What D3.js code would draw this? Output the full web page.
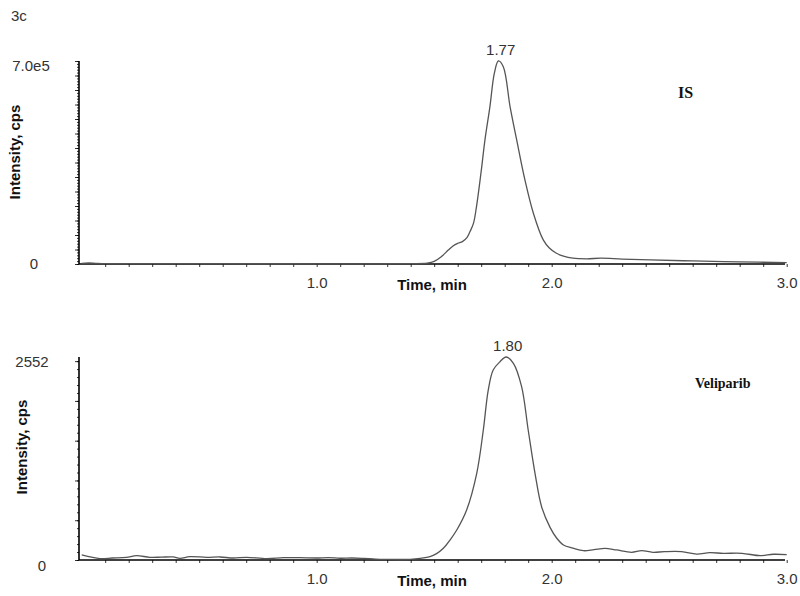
<!DOCTYPE html>
<html>
<head>
<meta charset="utf-8">
<script src="https://cdn.jsdelivr.net/npm/d3@7"></script>
<style>
body{margin:0;background:#fff}
svg{display:block;font-family:"Liberation Sans",Arial,sans-serif}
</style>
</head>
<body>
<div id="chart"></div>
<script>
'use strict'
// IS trace, top panel (time in min, intensity in cps)
let isTime=[0,0.03,0.06,0.1,0.3,0.6,0.9,1.2,1.3,1.4,1.47,1.5,1.53,1.56,1.58,1.6,1.62,1.64,1.652,1.667,1.68,1.7,1.716,1.737,1.756,1.773,1.794,1.823,1.851,1.886,1.922,1.964,1.99,2.02,2.05,2.09,2.15,2.21,2.3,2.42,2.6,2.8,3.0]
let isCps=[2000,3500,2500,1500,1200,1000,800,600,800,1500,3000,9000,25000,48000,62000,71000,77000,92000,111000,140000,198000,320000,428000,542000,658000,700000,680000,542000,428000,290000,175000,83000,55000,37000,27000,20000,18000,20000,17000,14000,10500,7500,4500]
// Veliparib trace, bottom panel
let velTime=[0,0.078,0.13,0.19,0.234,0.29,0.34,0.389,0.418,0.46,0.532,0.589,0.645,0.702,0.787,0.858,0.929,1.0,1.05,1.1,1.15,1.2,1.25,1.3,1.35,1.397,1.44,1.482,1.51,1.539,1.567,1.596,1.638,1.681,1.709,1.73,1.751,1.78,1.806,1.837,1.872,1.9,1.929,1.957,1.993,2.02,2.05,2.09,2.135,2.18,2.227,2.276,2.34,2.383,2.43,2.48,2.553,2.617,2.673,2.73,2.81,2.887,2.943,3.0]
let velCps=[63,17,25,34,54,34,36,38,21,42,34,38,25,34,17,29,29,25,30,22,25,20,12,8,6,9,20,41,80,147,250,377,629,1090,1634,2137,2388,2493,2552,2473,2179,1634,1090,670,410,280,189,150,117,130,147,126,97,117,97,105,105,75,92,84,84,54,72,67]

let timeLabels=[1.0,2.0,3.0]
let isYLabels=[0,700000]
let velYLabels=[0,2552]
let isPeak=[1.77,700000]
let velPeak=[1.80,2552]

const W=800,H=596
let svg=d3.select("#chart").append("svg").attr("width",W).attr("height",H)

let xs=d3.scaleLinear().domain([0,3]).range([81.7,786.7])

svg.append("text").attr("x",11).attr("y",21).attr("font-size",15).attr("fill","#333").text("3c")

function panel(o){
  let ys=d3.scaleLinear().domain([0,o.max]).range([o.base,o.top])
  let g=svg.append("g")
  // x axis: minor ticks each 0.1 min, labels on whole minutes
  let xa=d3.axisBottom(xs).tickValues(d3.range(1,31).map(i=>i/10)).tickSize(3).tickPadding(10)
    .tickFormat(d=>timeLabels.some(v=>Math.abs(v-d)<1e-6)?d3.format(".1f")(d):"")
  let gx=g.append("g").attr("transform","translate(0,"+o.base+")").call(xa)
  gx.select(".domain").remove()
  gx.selectAll("line").attr("stroke","#000")
  gx.selectAll("text").attr("font-size",15).attr("fill","#333").attr("font-family",null)
  g.append("line").attr("x1",79).attr("x2",785).attr("y1",o.base).attr("y2",o.base).attr("stroke","#000").attr("stroke-width",1.6)
  // y axis ticks
  let minor=d3.axisLeft(ys).tickValues(d3.range(0,o.max+1,o.minorStep)).tickSize(2).tickFormat("")
  let major=d3.axisLeft(ys).tickValues(d3.range(0,o.max+1,o.majorStep)).tickSize(4).tickFormat("")
  let gy1=g.append("g").attr("transform","translate(79,0)").call(minor)
  let gy2=g.append("g").attr("transform","translate(79,0)").call(major)
  gy1.select(".domain").remove();gy2.select(".domain").remove()
  g.selectAll("g.tick line").attr("stroke","#000").attr("stroke-width",0.8)
  g.append("line").attr("x1",79).attr("x2",79).attr("y1",o.top).attr("y2",o.base).attr("stroke","#000").attr("stroke-width",1.6)
  g.selectAll(".ylab").data(o.ylabels).enter().append("text").attr("class","ylab")
    .attr("x",(d,i)=>i==0?o.zeroX:o.maxX).attr("y",(d,i)=>ys(d)+(i==0?o.zeroDy:o.maxDy))
    .attr("text-anchor","middle").attr("font-size",15).attr("fill","#333").text((d,i)=>o.ytext[i])
  // trace
  let line=d3.line().x(d=>xs(d[0])).y(d=>ys(d[1])).curve(d3.curveCatmullRom.alpha(0.5))
  g.append("path").datum(d3.zip(o.t,o.v)).attr("d",line).attr("fill","none").attr("stroke","#555").attr("stroke-width",1.3)
  // peak retention time
  g.append("text").attr("x",xs(o.peak[0])+3).attr("y",ys(o.peak[1])-6).attr("text-anchor","middle")
    .attr("font-size",15).attr("fill","#333").text(d3.format(".2f")(o.peak[0]))
  // titles
  g.append("text").attr("x",432).attr("y",o.base+26).attr("text-anchor","middle").attr("font-size",15)
    .attr("font-weight","bold").attr("fill","#111").text("Time, min")
  g.append("text").attr("transform","translate("+o.titleX+","+o.titleY+")rotate(-90)").attr("text-anchor","middle")
    .attr("font-size",15).attr("font-weight","bold").attr("fill","#111").text("Intensity, cps")
  g.append("text").attr("x",o.nameX).attr("y",o.nameY).attr("font-family","'Liberation Serif','Times New Roman',serif")
    .attr("font-weight","bold").attr("font-size",o.nameSize).attr("fill","#111").text(o.name)
}

panel({t:isTime,v:isCps,max:700000,base:264,top:61,minorStep:10000,majorStep:50000,ylabels:isYLabels,ytext:["0","7.0e5"],
  zeroX:34,maxX:31,zeroDy:5,maxDy:10,peak:isPeak,titleX:20,titleY:152,name:"IS",nameX:678,nameY:98,nameSize:16})
panel({t:velTime,v:velCps,max:2552,base:560,top:357,minorStep:100,majorStep:500,ylabels:velYLabels,ytext:["0","2552"],
  zeroX:42,maxX:32,zeroDy:11,maxDy:10,peak:velPeak,titleX:27,titleY:447,name:"Veliparib",nameX:695,nameY:388,nameSize:14})
</script>
</body>
</html>
